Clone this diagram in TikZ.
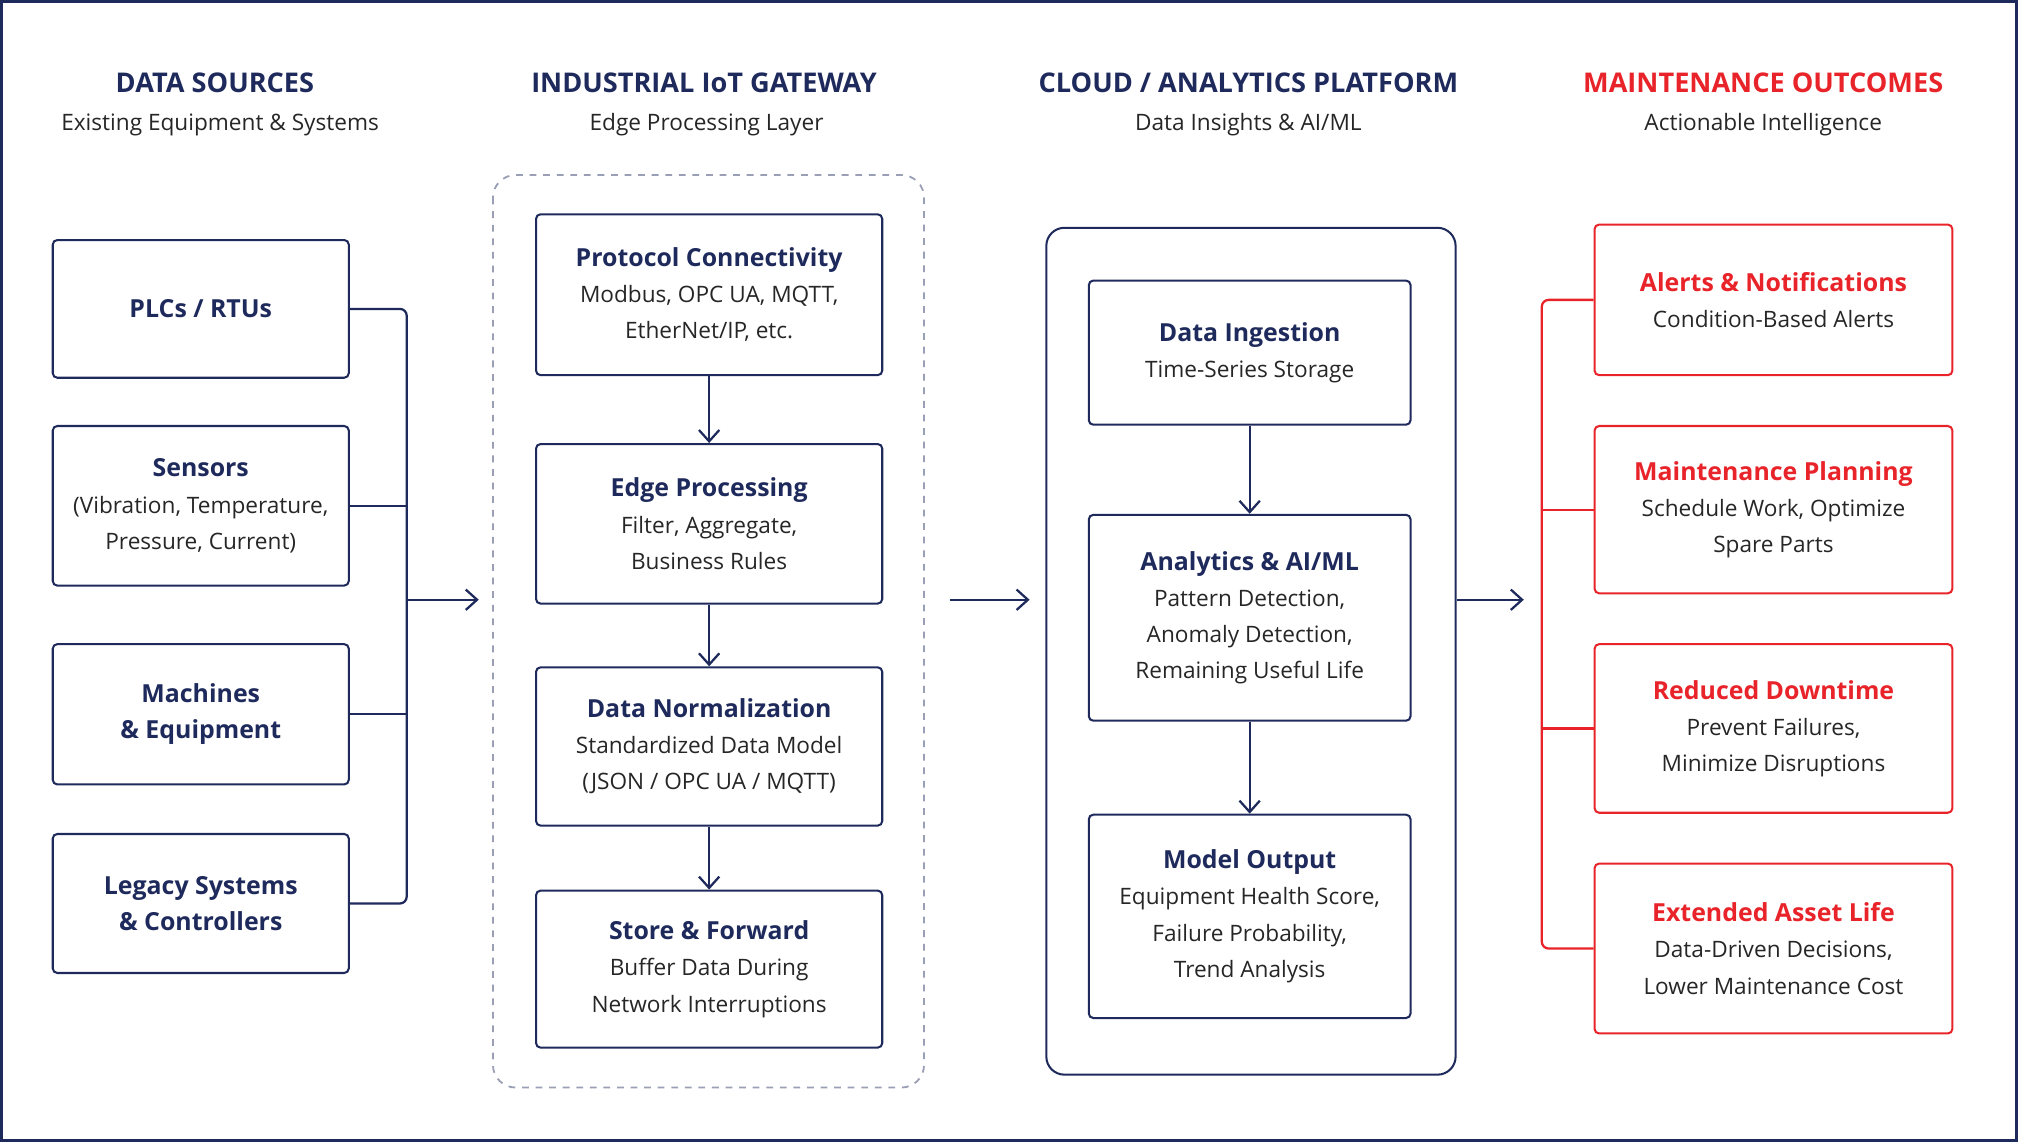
\documentclass[tikz,border=0pt]{standalone}
\usepackage{fontspec}
\setmainfont{Open Sans}
\usetikzlibrary{arrows.meta}
\definecolor{navy}{HTML}{1F2A5C}
\definecolor{alert}{HTML}{E8242A}
\tikzset{
  head/.style={font=\bfseries\fontsize{12}{14}\selectfont, text=navy},
  sub/.style={font=\fontsize{10}{12}\selectfont, text=black!85},
  card/.style={draw=navy, line width=0.9pt, rounded corners=2pt, align=center,
    font=\fontsize{10}{16}\selectfont, text=black!85},
  redcard/.style={card, draw=alert},
  link/.style={draw=navy, line width=1pt},
  flow/.style={link, -{Straight Barb[length=5pt,width=9pt]}},
}
\newcommand{\ttl}[1]{{\bfseries\fontsize{11}{16}\selectfont\textcolor{navy}{#1}}}
\newcommand{\rttl}[1]{{\bfseries\fontsize{11}{16}\selectfont\textcolor{alert}{#1}}}
\begin{document}
\begin{tikzpicture}[x=0.2mm,y=-0.2mm]
  \useasboundingbox (0,0) rectangle (1568,887);
  \draw[navy, line width=1.2pt] (1,1) rectangle (1567,886);
  % column headers
  \node[head] at (167,64) {DATA SOURCES};
  \node[sub] at (171,97) {Existing Equipment \& Systems};
  \node[head] at (547,64) {INDUSTRIAL IoT GATEWAY};
  \node[sub] at (549,97) {Edge Processing Layer};
  \node[head] at (970,64) {CLOUD / ANALYTICS PLATFORM};
  \node[sub] at (970,97) {Data Insights \& AI/ML};
  \node[head, text=alert] at (1370,64) {MAINTENANCE OUTCOMES};
  \node[sub] at (1370,97) {Actionable Intelligence};
  % data sources
  \node[card, minimum width=46mm, minimum height=21.4mm] (plc) at (156,240) {\ttl{PLCs / RTUs}};
  \node[card, minimum width=46mm, minimum height=24.8mm] (sens) at (156,393) {\ttl{Sensors}\\(Vibration, Temperature,\\Pressure, Current)};
  \node[card, minimum width=46mm, minimum height=21.8mm] (mach) at (156,555) {\ttl{Machines}\\\ttl{\& Equipment}};
  \node[card, minimum width=46mm, minimum height=21.6mm] (leg) at (156,702) {\ttl{Legacy Systems}\\\ttl{\& Controllers}};
  \coordinate (bus1) at (316,240);
  \coordinate (bus4) at (316,702);
  \coordinate (busout) at (316,466);
  \draw[link, rounded corners=3pt] (plc.east) -- (bus1) -- (bus4) -- (leg.east);
  \draw[link] (sens.east) -- (316,393);
  \draw[link] (mach.east) -- (316,555);
  % gateway
  \draw[navy!45, dashed, line width=0.8pt, rounded corners=10pt] (383,136) rectangle (718,845);
  \node[card, minimum width=53.8mm, minimum height=25mm] (proto) at (551,229) {\ttl{Protocol Connectivity}\\Modbus, OPC UA, MQTT,\\EtherNet/IP, etc.};
  \node[card, minimum width=53.8mm, minimum height=24.8mm] (edge) at (551,407) {\ttl{Edge Processing}\\Filter, Aggregate,\\Business Rules};
  \node[card, minimum width=53.8mm, minimum height=24.6mm] (norm) at (551,580) {\ttl{Data Normalization}\\Standardized Data Model\\(JSON / OPC UA / MQTT)};
  \node[card, minimum width=53.8mm, minimum height=24.4mm] (store) at (551,753) {\ttl{Store \& Forward}\\Buffer Data During\\Network Interruptions};
  \coordinate (gwin) at (372,466);
  \coordinate (gwout) at (738,466);
  \coordinate (cloudin) at (800,466);
  \draw[flow] (busout) -- (gwin);
  \draw[flow] (proto) -- (edge);
  \draw[flow] (edge) -- (norm);
  \draw[flow] (norm) -- (store);
  % cloud
  \node[draw=navy, line width=0.9pt, rounded corners=8pt, minimum width=63.6mm, minimum height=131.6mm] (cloud) at (972,506) {};
  \node[card, minimum width=50mm, minimum height=22.4mm] (ingest) at (971,274) {\ttl{Data Ingestion}\\Time-Series Storage};
  \node[card, minimum width=50mm, minimum height=32mm] (ana) at (971,480) {\ttl{Analytics \& AI/ML}\\Pattern Detection,\\Anomaly Detection,\\Remaining Useful Life};
  \node[card, minimum width=50mm, minimum height=31.6mm] (model) at (971,712) {\ttl{Model Output}\\Equipment Health Score,\\Failure Probability,\\Trend Analysis};
  \draw[flow] (gwout) -- (cloudin);
  \draw[flow] (ingest) -- (ana);
  \draw[flow] (ana) -- (model);
  % outcomes
  \coordinate (out1) at (1198,233);
  \coordinate (out4) at (1198,737);
  \coordinate (outin) at (1184,466);
  \node[redcard, minimum width=55.6mm, minimum height=23.4mm] (alerts) at (1378,233) {\rttl{Alerts \& Notifications}\\Condition-Based Alerts};
  \node[redcard, minimum width=55.6mm, minimum height=26mm] (plan) at (1378,396) {\rttl{Maintenance Planning}\\Schedule Work, Optimize\\Spare Parts};
  \node[redcard, minimum width=55.6mm, minimum height=26.2mm] (down) at (1378,566) {\rttl{Reduced Downtime}\\Prevent Failures,\\Minimize Disruptions};
  \node[redcard, minimum width=55.6mm, minimum height=26.4mm] (life) at (1378,737) {\rttl{Extended Asset Life}\\Data-Driven Decisions,\\Lower Maintenance Cost};
  \draw[alert, line width=1pt, rounded corners=3pt] (alerts.west) -- (out1) -- (out4) -- (life.west);
  \draw[alert, line width=1pt] (1198,396) -- (plan.west);
  \draw[alert, line width=1pt] (1198,566) -- (down.west);
  \draw[flow] (cloud.east |- busout) -- (outin);
\end{tikzpicture}
\end{document}
